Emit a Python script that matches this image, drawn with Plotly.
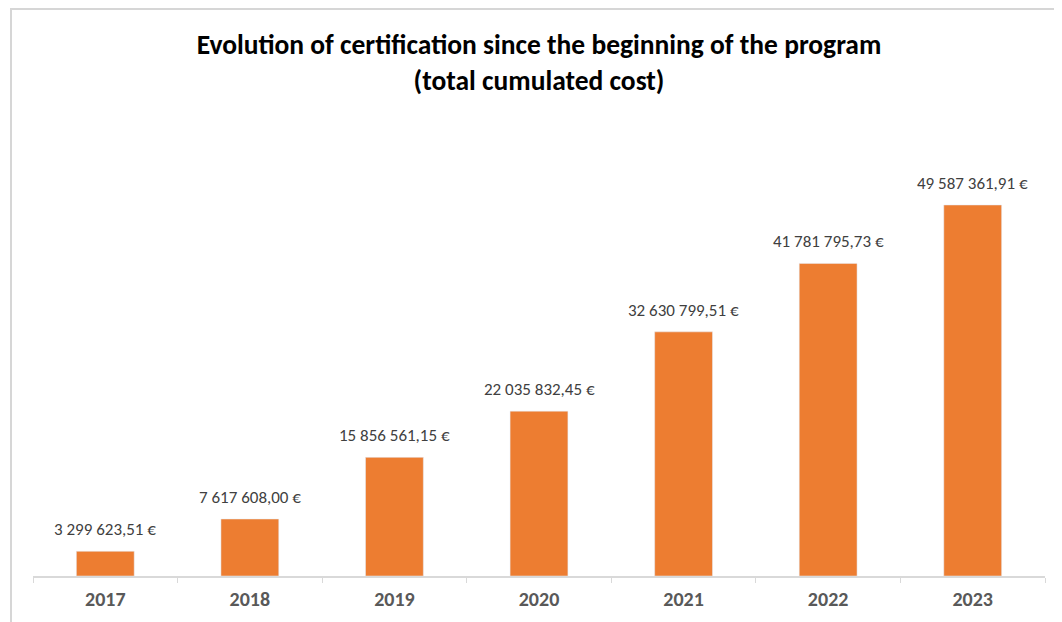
import plotly.graph_objects as go

years = ["2017", "2018", "2019", "2020", "2021", "2022", "2023"]
cost = [3299623.51, 7617608.00, 15856561.15, 22035832.45, 32630799.51, 41781795.73, 49587361.91]

def fmt(v):
    s = f"{v:,.2f}"
    return s.replace(",", "\u202f").replace(".", ",") + " €"

labels = [fmt(v) for v in cost]

OFF = 8  # default page body margin
W, H = 1062 - OFF, 622 - OFF
L, R = 33 - OFF, 17
T, B = 130 - OFF, 46
pw, ph = W - L - R, H - T - B
ymax = 59.61e6

font_main = "Carlito, Calibri, Lato, sans-serif"

fig = go.Figure(go.Bar(
    x=years, y=cost,
    marker=dict(color="#ED7D31"),
    hoverinfo="x+y",
))

# category axis: annotation x is the category index
for i, (v, lab) in enumerate(zip(cost, labels)):
    fig.add_annotation(x=i, y=v, xref="x", yref="y", text=lab, showarrow=False,
                       yanchor="bottom", yshift=9,
                       font=dict(family=font_main, size=17, color="#404040"))

def px(x):
    return (x - OFF - L) / pw

def fy(y):  # figure-pixel y -> paper
    return (H - B - y) / ph

fig.add_shape(type="rect", xref="paper", yref="paper",
              x0=px(11), x1=px(1075), y0=fy(640), y1=fy(1),
              line=dict(color="#D6D6D6", width=2), fillcolor="rgba(0,0,0,0)", layer="below")

fig.update_layout(
    width=W, height=H,
    margin=dict(l=L, r=R, t=T, b=B),
    paper_bgcolor="white", plot_bgcolor="white",
    bargap=0.6,
    showlegend=False,
    title=dict(
        text="<b>Evolution of certification since the beginning of the program<br>(total cumulated cost)</b>",
        x=0.5, xanchor="center", xref="paper", y=1 - 46 / H, yanchor="top",
        font=dict(family=font_main, size=27.5, color="#000000"),
    ),
    xaxis=dict(
        type="category",
        showline=True, linecolor="#D9D9D9", linewidth=1.5,
        ticks="outside", tickson="boundaries", ticklen=5, tickcolor="#D9D9D9",
        ticklabelstandoff=4,
        tickfont=dict(family=font_main, size=20, color="#595959", weight="bold"),
        showgrid=False, zeroline=False,
    ),
    yaxis=dict(visible=False, range=[0, ymax], showgrid=False, zeroline=False),
)

fig.write_html("out.html")
